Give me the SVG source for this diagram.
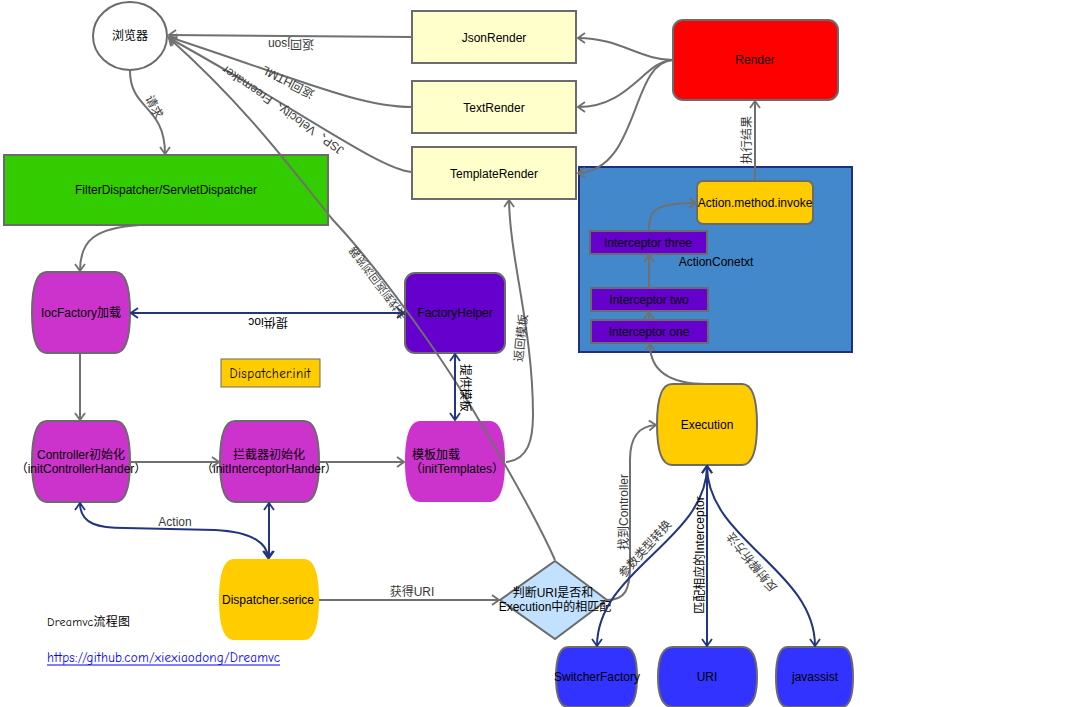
<svg xmlns="http://www.w3.org/2000/svg" width="1082" height="707" viewBox="0 0 1082 707">
<style>
text{font-family:"Liberation Sans","Noto Sans CJK SC",sans-serif;font-size:12px;fill:#000;}
.c{text-anchor:middle;dominant-baseline:central;}
.lbl{fill:#3a3a3a;}
.comic{font-family:"Comic Neue","DejaVu Sans","Noto Sans CJK SC",sans-serif;}
.g{fill:none;stroke:#707070;stroke-width:2;}
.b{fill:none;stroke:#22357f;stroke-width:2;}
.ga{marker-end:url(#ag);}
.bb{marker-start:url(#ab);marker-end:url(#ab);}
.stk{stroke:#6b6b6b;stroke-width:2;}
.mag{fill:#cc33cc;}
.yel{fill:#ffcc00;}
.blu{fill:#3333ff;}
.pur{fill:#6600cc;stroke:#6b6b6b;stroke-width:2;}
.ryel{fill:#ffffcc;stroke:#6b6b6b;stroke-width:2;}
</style>
<defs>
<marker id="ag" viewBox="0 0 10 12" refX="9" refY="6" markerWidth="10" markerHeight="12" markerUnits="userSpaceOnUse" orient="auto-start-reverse">
<path d="M2,1 L9,6 L2,11" fill="none" stroke="#707070" stroke-width="1.8"/>
</marker>
<marker id="ab" viewBox="0 0 10 12" refX="9" refY="6" markerWidth="10" markerHeight="12" markerUnits="userSpaceOnUse" orient="auto-start-reverse">
<path d="M2,1 L9,6 L2,11" fill="none" stroke="#22357f" stroke-width="1.8"/>
</marker>
</defs>
<rect width="1082" height="707" fill="#fff"/>

<g id="browser"><ellipse cx="130" cy="36" rx="37" ry="34" fill="#fff" stroke="#6b6b6b" stroke-width="2"/><text class="c" x="130" y="36">浏览器</text></g>
<g id="jsonRender"><rect class="ryel" x="412" y="11" width="164" height="52"/><text class="c" x="494" y="38">JsonRender</text></g>
<g id="textRender"><rect class="ryel" x="412" y="81" width="164" height="52"/><text class="c" x="494" y="108">TextRender</text></g>
<g id="templateRender"><rect class="ryel" x="412" y="147" width="164" height="52"/><text class="c" x="494" y="174">TemplateRender</text></g>
<g id="render"><rect x="673" y="20" width="165" height="80" rx="10" fill="#ff0000" stroke="#6b6b6b" stroke-width="2"/><text class="c" x="755" y="60">Render</text></g>
<g id="filterDispatcher"><rect x="4" y="155" width="324" height="70" fill="#33cc00" stroke="#6b6b6b" stroke-width="2"/><text class="c" x="166" y="190">FilterDispatcher/ServletDispatcher</text></g>

<g id="iocFactory"><path class="mag stk" d="M46.7,272 H115.3 C127.1,272 130,292.25 130,312.5 C130,332.75 127.1,353 115.3,353 H46.7 C34.9,353 32,332.75 32,312.5 C32,292.25 34.9,272 46.7,272 Z"/><text class="c" x="81" y="313">IocFactory加载</text></g>
<g id="controllerInit"><path class="mag stk" d="M46.7,421 H115.3 C127.1,421 130,441.25 130,461.5 C130,481.75 127.1,502 115.3,502 H46.7 C34.9,502 32,481.75 32,461.5 C32,441.25 34.9,421 46.7,421 Z"/><text class="c" x="81" y="455">Controller初始化</text><text class="c" x="81" y="469">（initControllerHander）</text></g>
<g id="interceptorInit"><path class="mag stk" d="M234.9,421 H304.1 C316,421 319,441.25 319,461.5 C319,481.75 316,502 304.1,502 H234.9 C223,502 220,481.75 220,461.5 C220,441.25 223,421 234.9,421 Z"/><text class="c" x="269" y="455">拦截器初始化</text><text class="c" x="269" y="469">（initInterceptorHander）</text></g>
<g id="templateInit"><path class="mag" d="M420,421 H490 C502,421 505,441.25 505,461.5 C505,481.75 502,502 490,502 H420 C408,502 405,481.75 405,461.5 C405,441.25 408,421 420,421 Z"/><text x="412" y="455" dominant-baseline="central">模板加载</text><text x="410" y="469" dominant-baseline="central">（initTemplates）</text></g>
<g id="factoryHelper"><rect class="pur" x="405" y="273" width="100" height="80" rx="10"/><text class="c" x="455" y="313">FactoryHelper</text></g>
<g id="dispatcherInit"><rect x="221" y="359" width="99" height="28" fill="#ffcc00" stroke="#6b6b6b" stroke-width="1"/><text class="c comic" x="270" y="373" textLength="81" style="font-size:13px">Dispatcher.init</text></g>
<g id="dispatcherService"><path class="yel" d="M234,559 H304 C316,559 319,579.25 319,599.5 C319,619.75 316,640 304,640 H234 C222,640 219,619.75 219,599.5 C219,579.25 222,559 234,559 Z"/><text class="c" x="268" y="600">Dispatcher.serice</text></g>
<g id="decision"><path d="M555,561 L607,600 L555,639 L500,600 Z" fill="#c2e0ff" stroke="#6b6b6b" stroke-width="2"/><text class="c" x="553" y="593">判断URI是否和</text><text class="c" x="555" y="607">Execution中的相匹配</text></g>

<g id="actionContext"><rect x="579" y="167" width="273" height="185" fill="#4488cc" stroke="#1f2f7f" stroke-width="2"/><text class="c" x="716" y="262">ActionConetxt</text></g>
<g id="actionInvoke"><rect x="697" y="181" width="116" height="43" rx="6" fill="#ffcc00" stroke="#6b6b6b" stroke-width="2"/><text class="c" x="755" y="203">Action.method.invoke</text></g>
<g id="interceptorThree"><rect class="pur" x="590" y="231" width="117" height="23"/><text class="c" x="648" y="243">Interceptor three</text></g>
<g id="interceptorTwo"><rect class="pur" x="591" y="288" width="117" height="23"/><text class="c" x="649" y="300">Interceptor two</text></g>
<g id="interceptorOne"><rect class="pur" x="591" y="320" width="117" height="23"/><text class="c" x="649" y="332">Interceptor one</text></g>

<g id="execution"><path class="yel stk" d="M672,384 H742 C754,384 757,404.25 757,424.5 C757,444.75 754,465 742,465 H672 C660,465 657,444.75 657,424.5 C657,404.25 660,384 672,384 Z"/><text class="c" x="707" y="425">Execution</text></g>
<g id="switcherFactory"><path class="blu stk" d="M568.2,647 H624.9 C634.6,647 637,662 637,677 C637,692 634.6,707 624.9,707 H568.2 C558.4,707 556,692 556,677 C556,662 558.4,647 568.2,647 Z"/><text class="c" x="597" y="677">SwitcherFactory</text></g>
<g id="uri"><path class="blu stk" d="M672.9,647 H742.2 C754,647 757,662 757,677 C757,692 754,707 742.2,707 H672.9 C661,707 658,692 658,677 C658,662 661,647 672.9,647 Z"/><text class="c" x="707" y="677">URI</text></g>
<g id="javassist"><path class="blu stk" d="M787.6,647 H841.5 C850.7,647 853,662 853,677 C853,692 850.7,707 841.5,707 H787.6 C778.3,707 776,692 776,677 C776,662 778.3,647 787.6,647 Z"/><text class="c" x="815" y="677">javassist</text></g>

<g id="notes">
<text class="comic" x="47" y="626" textLength="83">Dreamvc流程图</text>
<text class="comic" x="47" y="662" textLength="233" style="fill:#0000ff;font-size:13px">https://github.com/xiexiaodong/Dreamvc</text>
<line x1="47" y1="665" x2="280" y2="665" stroke="#0000ff" stroke-width="1"/>
</g>

<g id="connectors">
<path class="g ga" d="M130,71 C130,110 165,105 165,154"/>
<path class="g ga" d="M412,37 L169,35"/>
<path class="g ga" d="M412,107 C360,107 300,80 169,37"/>
<path class="g ga" d="M412,172 C380,170 300,110 169,38"/>
<path class="g ga" d="M555,560 C535,515 500,455 470,405 C440,355 380,270 333,220 C300,180 250,110 169,38"/>
<path class="g ga" d="M673,60 C640,60 620,38 578,38"/>
<path class="g ga" d="M673,60 C645,60 630,107 578,107"/>
<path class="g ga" d="M673,60 C630,62 640,170 578,173"/>
<path class="g ga" d="M140,225 C95,228 80,240 80,271"/>
<path class="b bb" d="M131,313 H404"/>
<path class="g ga" d="M80,354 V420"/>
<path class="g ga" d="M130,462 H219"/>
<path class="g ga" d="M319,462 H404"/>
<path class="b bb" d="M455,354 V420"/>
<path class="g ga" d="M506,462 C528,460 533,440 533,415 C533,330 510,260 509,200"/>
<path class="b bb" d="M80,503 C80,525 100,528 125,528 L215,530 C255,532 268,545 268,558"/>
<path class="b bb" d="M269,503 V558"/>
<path class="g ga" d="M319,600 H499"/>
<path class="g ga" d="M607,600 C625,600 630,590 630,565 L630,460 C630,435 640,426 656,425"/>
<path class="b bb" d="M707,466 C707,540 597,570 597,646"/>
<path class="b bb" d="M707,466 V646"/>
<path class="b bb" d="M707,466 C707,540 815,570 815,646"/>
<path class="g ga" d="M707,384 C670,384 650,372 650,344"/>
<path class="g ga" d="M649,320 V312"/>
<path class="g ga" d="M649,287 V255"/>
<path class="g ga" d="M649,230 C649,210 655,203 696,203"/>
<path class="g ga" d="M755,180 V101"/>
</g>

<g id="labels">
<text class="c lbl" transform="translate(154,107) rotate(63)">请求</text>
<text class="c lbl" transform="translate(291,44) rotate(180)">返回json</text>
<text class="c lbl" transform="translate(288,82) rotate(207)">返回HTML</text>
<text class="c lbl" transform="translate(283,110) rotate(215)">JSP、Velocity、Freemaker</text>
<text class="c lbl" transform="translate(378,283) rotate(233)" style="font-size:11px">未找到返回浏览器</text>
<text class="c" transform="translate(465,388) rotate(90)">提供模板</text>
<text class="c" transform="translate(268,322) rotate(180)">提供ioc</text>
<text class="c lbl" transform="translate(521,338) rotate(-84)">返回模板</text>
<text class="c lbl" x="175" y="522">Action</text>
<text class="c lbl" x="412" y="592">获得URI</text>
<text class="c lbl" transform="translate(624,512) rotate(-90)">找到Controller</text>
<text class="c lbl" transform="translate(645,549) rotate(-48)">参数类型转换</text>
<text class="c" transform="translate(700,555) rotate(-90)">匹配相应的Interceptor</text>
<text class="c lbl" transform="translate(752,562) rotate(231)">反射解析方法</text>
<text class="c lbl" transform="translate(747,140) rotate(-90)">执行结果</text>
</g>
</svg>
